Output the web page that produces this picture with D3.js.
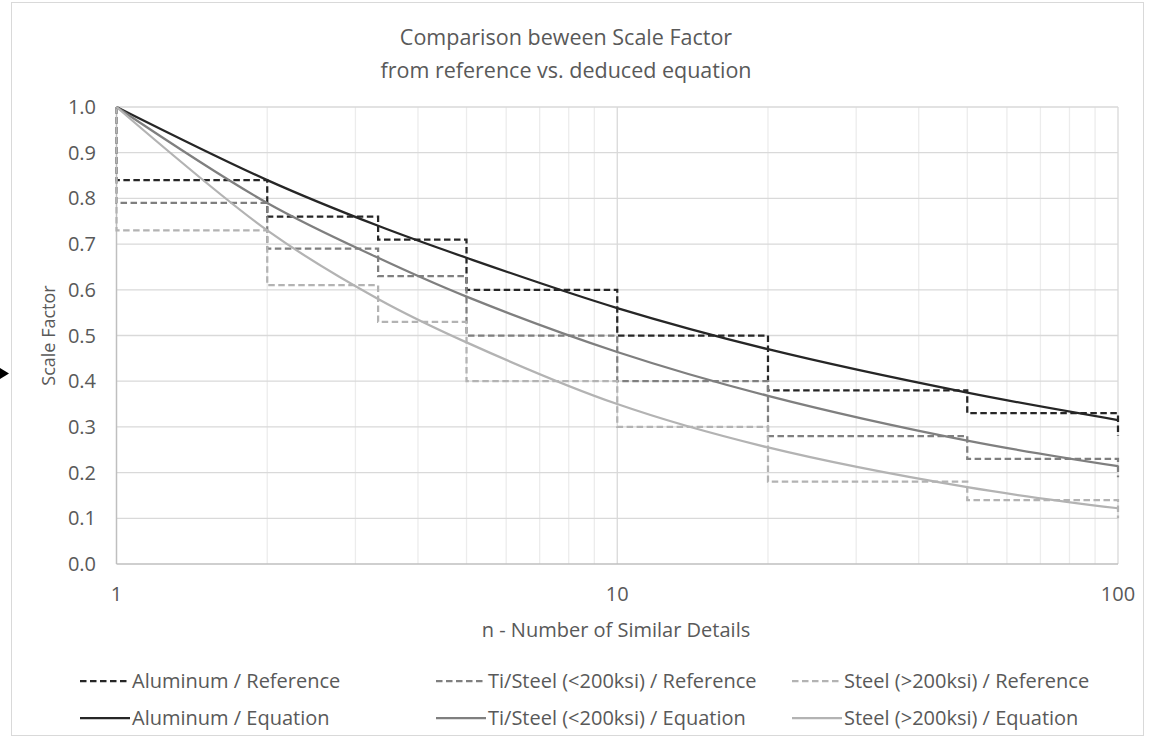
<!DOCTYPE html>
<html>
<head>
<script src="https://cdn.jsdelivr.net/npm/d3@7"></script>
<style type="text/css">
  body { margin: 0; background: #fff; }
  text { font-family: "Open Sans", "Noto Sans", sans-serif; fill: #595959; }
</style>
</head>
<body>
<script>

// step breaks (n) used by both reference and equation series
var nBreaks = [1, 2, 3.33, 5, 10, 20, 50, 100];

// reference step levels (first = value at n=1, last = drop at n=100)
var alumRef  = [1.00, 0.84, 0.76, 0.71, 0.60, 0.50, 0.38, 0.33, 0.28];
var tiRef    = [1.00, 0.79, 0.69, 0.63, 0.50, 0.40, 0.28, 0.23, 0.19];
var steelRef = [1.00, 0.73, 0.61, 0.53, 0.40, 0.30, 0.18, 0.14, 0.10];

// equation values read at the same n
var alumEq  = [1.00, 0.84, 0.74, 0.67, 0.56, 0.47, 0.375, 0.315];
var tiEq    = [1.00, 0.79, 0.67, 0.585, 0.464, 0.368, 0.27, 0.214];
var steelEq = [1.00, 0.73, 0.58, 0.485, 0.35, 0.255, 0.168, 0.122];

var yTicks = [0, 0.1, 0.2, 0.3, 0.4, 0.5, 0.6, 0.7, 0.8, 0.9, 1.0];
var xTicks = [1, 10, 100];
var seriesNames = [
  "Aluminum / Reference", "Ti/Steel (<200ksi) / Reference", "Steel (>200ksi) / Reference",
  "Aluminum / Equation", "Ti/Steel (<200ksi) / Equation", "Steel (>200ksi) / Equation"
];

var svg = d3.select("body").append("svg")
  .attr("width", 1156)
  .attr("height", 744);

// chart border
svg.append("rect")
  .attr("x", 11.5).attr("y", 2.5)
  .attr("width", 1132).attr("height", 733)
  .attr("fill", "#fff").attr("stroke", "#d9d9d9");

// little marker on the left edge
svg.append("path")
  .attr("d", "M0,368 L9,373.5 L0,379 Z")
  .attr("fill", "#000");

var x = d3.scaleLog().domain([1, 100]).range([116.5, 1118]);
var y = d3.scaleLinear().domain([0, 1]).range([564, 107]);

// minor vertical gridlines
var minor = [];
[1, 10].forEach(function (d) {
  for (var k = 2; k <= 9; k++) minor.push(d * k);
});
svg.append("g").selectAll("line").data(minor).enter().append("line")
  .attr("x1", function (d) { return x(d); }).attr("x2", function (d) { return x(d); })
  .attr("y1", y(1)).attr("y2", y(0))
  .attr("stroke", "#ececec").attr("stroke-width", 1.3);

// major gridlines
svg.append("g").selectAll("line").data(yTicks.slice(1)).enter().append("line")
  .attr("x1", x(1)).attr("x2", x(100))
  .attr("y1", function (d) { return y(d); }).attr("y2", function (d) { return y(d); })
  .attr("stroke", "#d9d9d9").attr("stroke-width", 1.3);
svg.append("g").selectAll("line").data(xTicks.slice(1)).enter().append("line")
  .attr("x1", function (d) { return x(d); }).attr("x2", function (d) { return x(d); })
  .attr("y1", y(1)).attr("y2", y(0))
  .attr("stroke", "#d9d9d9").attr("stroke-width", 1.3);

// axis lines
svg.append("line").attr("x1", x(1)).attr("x2", x(1)).attr("y1", y(1)).attr("y2", y(0))
  .attr("stroke", "#bfbfbf").attr("stroke-width", 1.5);
svg.append("line").attr("x1", x(1)).attr("x2", x(100)).attr("y1", y(0)).attr("y2", y(0))
  .attr("stroke", "#bfbfbf").attr("stroke-width", 1.5);

// tick labels
svg.append("g").selectAll("text").data(yTicks).enter().append("text")
  .attr("x", 96).attr("y", function (d) { return y(d); })
  .attr("dy", "0.35em").attr("text-anchor", "end")
  .style("font-size", "20px")
  .text(function (d) { return d3.format(".1f")(d); });
svg.append("g").selectAll("text").data(xTicks).enter().append("text")
  .attr("x", function (d) { return x(d); }).attr("y", 594)
  .attr("dy", "0.35em").attr("text-anchor", "middle")
  .style("font-size", "20px")
  .text(function (d) { return d; });

// titles
svg.append("text").attr("x", 566).attr("y", 37).attr("dy", "0.35em")
  .attr("text-anchor", "middle").style("font-size", "21.5px")
  .text("Comparison beween Scale Factor");
svg.append("text").attr("x", 566).attr("y", 70).attr("dy", "0.35em")
  .attr("text-anchor", "middle").style("font-size", "21.5px")
  .text("from reference vs. deduced equation");
svg.append("text").attr("x", 616).attr("y", 630).attr("dy", "0.35em")
  .attr("text-anchor", "middle").style("font-size", "20px")
  .text("n - Number of Similar Details");
svg.append("text")
  .attr("transform", "translate(49," + ((y(0) + y(1)) / 2) + ") rotate(-90)")
  .attr("dy", "0.35em").attr("text-anchor", "middle").style("font-size", "18px")
  .text("Scale Factor");

// build step points for reference series
function steps(levels) {
  var pts = [];
  nBreaks.forEach(function (n, i) {
    pts.push([n, levels[i]]);
    pts.push([n, levels[i + 1]]);
  });
  return pts;
}
function eqPts(vals) {
  return nBreaks.map(function (n, i) { return [n, vals[i]]; });
}

var colors = ["#262626", "#7f7f7f", "#b3b3b3"];

var stepLine = d3.line()
  .x(function (d) { return x(d[0]); })
  .y(function (d) { return y(d[1]); });
var smoothLine = d3.line()
  .x(function (d) { return x(d[0]); })
  .y(function (d) { return y(d[1]); })
  .curve(d3.curveCatmullRom);

var series = [
  { pts: steps(alumRef), color: colors[0], dash: true },
  { pts: steps(tiRef), color: colors[1], dash: true },
  { pts: steps(steelRef), color: colors[2], dash: true },
  { pts: eqPts(alumEq), color: colors[0], dash: false },
  { pts: eqPts(tiEq), color: colors[1], dash: false },
  { pts: eqPts(steelEq), color: colors[2], dash: false }
];

svg.append("g").selectAll("path").data(series).enter().append("path")
  .attr("d", function (d) { return d.dash ? stepLine(d.pts) : smoothLine(d.pts); })
  .attr("fill", "none")
  .attr("stroke", function (d) { return d.color; })
  .attr("stroke-width", 2.25)
  .attr("stroke-dasharray", function (d) { return d.dash ? "6.5,3.5" : null; });

// legend
var colX = [80, 436, 792];
var rowY = [681, 718];
var leg = svg.append("g").selectAll("g").data(series).enter().append("g")
  .attr("transform", function (d, i) {
    return "translate(" + colX[i % 3] + "," + rowY[Math.floor(i / 3)] + ")";
  });
leg.append("line")
  .attr("x1", 0).attr("x2", 50).attr("y1", 0).attr("y2", 0)
  .attr("stroke", function (d) { return d.color; })
  .attr("stroke-width", 2.25)
  .attr("stroke-dasharray", function (d) { return d.dash ? "6.5,3.5" : null; });
leg.append("text")
  .attr("x", 52).attr("dy", "0.35em")
  .style("font-size", "20px")
  .text(function (d, i) { return seriesNames[i]; });

</script>
</body>
</html>
